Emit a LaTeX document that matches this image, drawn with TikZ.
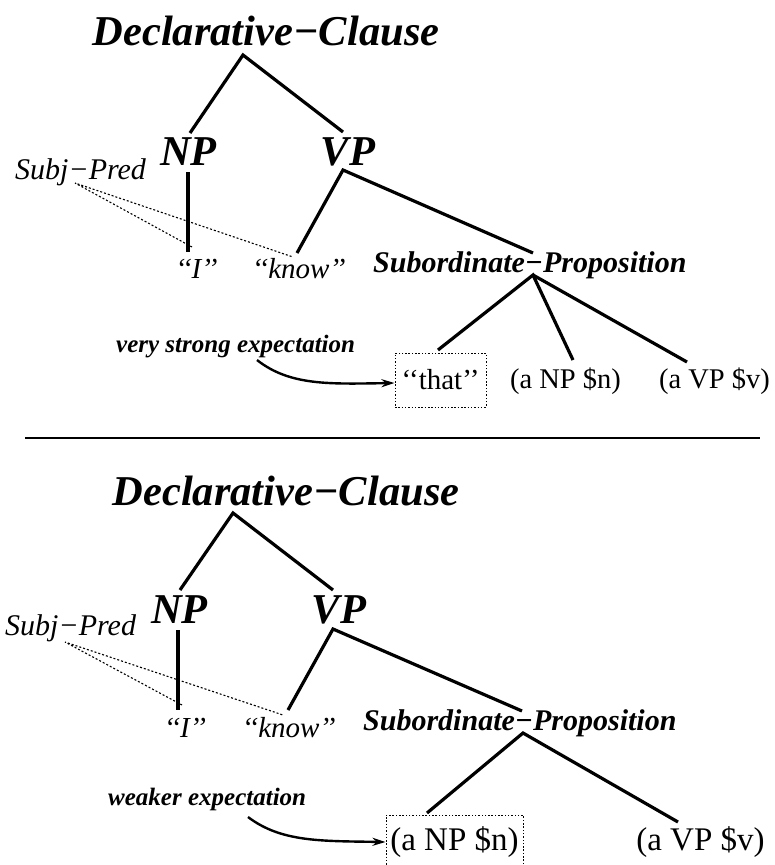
\documentclass[tikz,border=0pt]{standalone}
\usepackage{fontspec}
\setmainfont{Liberation Serif}
\usetikzlibrary{arrows.meta}
\newcommand\fsz[1]{\fontsize{#1}{#1}\selectfont}
\tikzset{
  cat/.style={inner sep=0pt, anchor=base, font=\fsz{42.5}\bfseries\itshape},
  subcat/.style={inner sep=0pt, anchor=base west, font=\fsz{30}\bfseries\itshape},
  word/.style={inner sep=0pt, anchor=base, font=\fsz{29}\itshape},
  rel/.style={inner sep=0pt, anchor=base west, font=\fsz{30}\itshape},
  note/.style={inner sep=0pt, anchor=base west, font=\fsz{25}\bfseries\itshape},
  leafa/.style={inner sep=0pt, anchor=base, font=\fsz{28.5}},
  leafb/.style={inner sep=0pt, anchor=base, font=\fsz{33}},
  expbox/.style={draw, dash pattern=on 1.5pt off 1.8pt, line width=1pt, inner sep=0pt, anchor=center},
  branch/.style={line width=3.2pt},
  linkdot/.style={line width=1.1pt, dash pattern=on 2pt off 2pt},
  pointer/.style={line width=2.4pt, -{Stealth[length=13pt,width=8pt]}},
}
\begin{document}
\begin{tikzpicture}[x=1pt,y=-1pt]
\clip (0,0) rectangle (775,865);
\fill[white] (0,0) rectangle (775,865);

% ---------------- top tree ----------------
\node[cat] (dc1) at (266,45) {Declarative−Clause};
\node[cat] (np1) at (188.5,165) {NP};
\node[cat] (vp1) at (348,165) {VP};
\node[rel] (sp1) at (15,179) {Subj−Pred};
\node[word] (i1) at (196.5,278) {‘‘I’’};
\node[word, anchor=base west] (know1) at (252,278) {‘‘know’’};
\node[subcat] (sub1) at (373,272) {Subordinate−Proposition};
\node[note] (vse) at (116,352) {very strong expectation};
\node[expbox, minimum width=91pt, minimum height=54pt, font=\fsz{29}] (that) at (440.5,380) {‘‘that’’};
\node[leafa] (npn1) at (565.5,388) {(a NP \$n)};
\node[leafa] (vpv1) at (714.5,388) {(a VP \$v)};

\coordinate (r1) at (243,55);
\coordinate (r1a) at (190,133);
\coordinate (r1b) at (343,132);
\coordinate (npv1t) at (188,172);
\coordinate (npv1b) at (188,252);
\coordinate (vpj1) at (343,170);
\coordinate (k1e) at (297,253);
\coordinate (s1e) at (533,253);
\coordinate (sj1) at (533,275);
\coordinate (c1a) at (438,350);
\coordinate (c1b) at (573,360);
\coordinate (c1c) at (687,362);
\coordinate (d1s) at (75,183);
\coordinate (d1a) at (192,247);
\coordinate (d1b) at (293,257);
\coordinate (a1s) at (257,360);

\draw[branch] (r1a) -- (r1) -- (r1b);
\draw[branch] (npv1t) -- (npv1b);
\draw[branch] (k1e) -- (vpj1) -- (s1e);
\draw[branch] (c1a) -- (sj1) -- (c1b);
\draw[branch] (sj1) -- (c1c);
\draw[linkdot] (d1a) -- (d1s) -- (d1b);
\draw[pointer] (a1s) .. controls (290,386) and (330,384) .. ([yshift=-3pt]that.west);

% ---------------- separator ----------------
\coordinate (sepa) at (25,438);
\coordinate (sepb) at (760,438);
\draw[line width=2pt] (sepa) -- (sepb);

% ---------------- bottom tree ----------------
\node[cat] (dc2) at (286,505) {Declarative−Clause};
\node[cat] (np2) at (179.5,623) {NP};
\node[cat] (vp2) at (339,623) {VP};
\node[rel] (sp2) at (5,635) {Subj−Pred};
\node[word] (i2) at (185,737) {‘‘I’’};
\node[word, anchor=base west] (know2) at (242,737) {‘‘know’’};
\node[subcat] (sub2) at (363,730) {Subordinate−Proposition};
\node[note] (we) at (108,805) {weaker expectation};
\node[expbox, minimum width=137pt, minimum height=54pt, font=\fsz{33}] (npn2) at (454.5,842) {(a NP \$n)};
\node[leafb] (vpv2) at (700.5,850) {(a VP \$v)};

\coordinate (r2) at (233,513);
\coordinate (r2a) at (180,590);
\coordinate (r2b) at (333,590);
\coordinate (npv2t) at (178,630);
\coordinate (npv2b) at (178,710);
\coordinate (vpj2) at (333,629);
\coordinate (k2e) at (288,710);
\coordinate (s2e) at (522,711);
\coordinate (sj2) at (523,733);
\coordinate (c2a) at (427,813);
\coordinate (c2c) at (678,822);
\coordinate (d2s) at (65,642);
\coordinate (d2a) at (182,705);
\coordinate (d2b) at (283,715);
\coordinate (a2s) at (248,817);

\draw[branch] (r2a) -- (r2) -- (r2b);
\draw[branch] (npv2t) -- (npv2b);
\draw[branch] (k2e) -- (vpj2) -- (s2e);
\draw[branch] (c2a) -- (sj2) -- (c2c);
\draw[linkdot] (d2a) -- (d2s) -- (d2b);
\draw[pointer] (a2s) .. controls (281,842) and (320,841) .. (npn2.west);
\end{tikzpicture}
\end{document}
